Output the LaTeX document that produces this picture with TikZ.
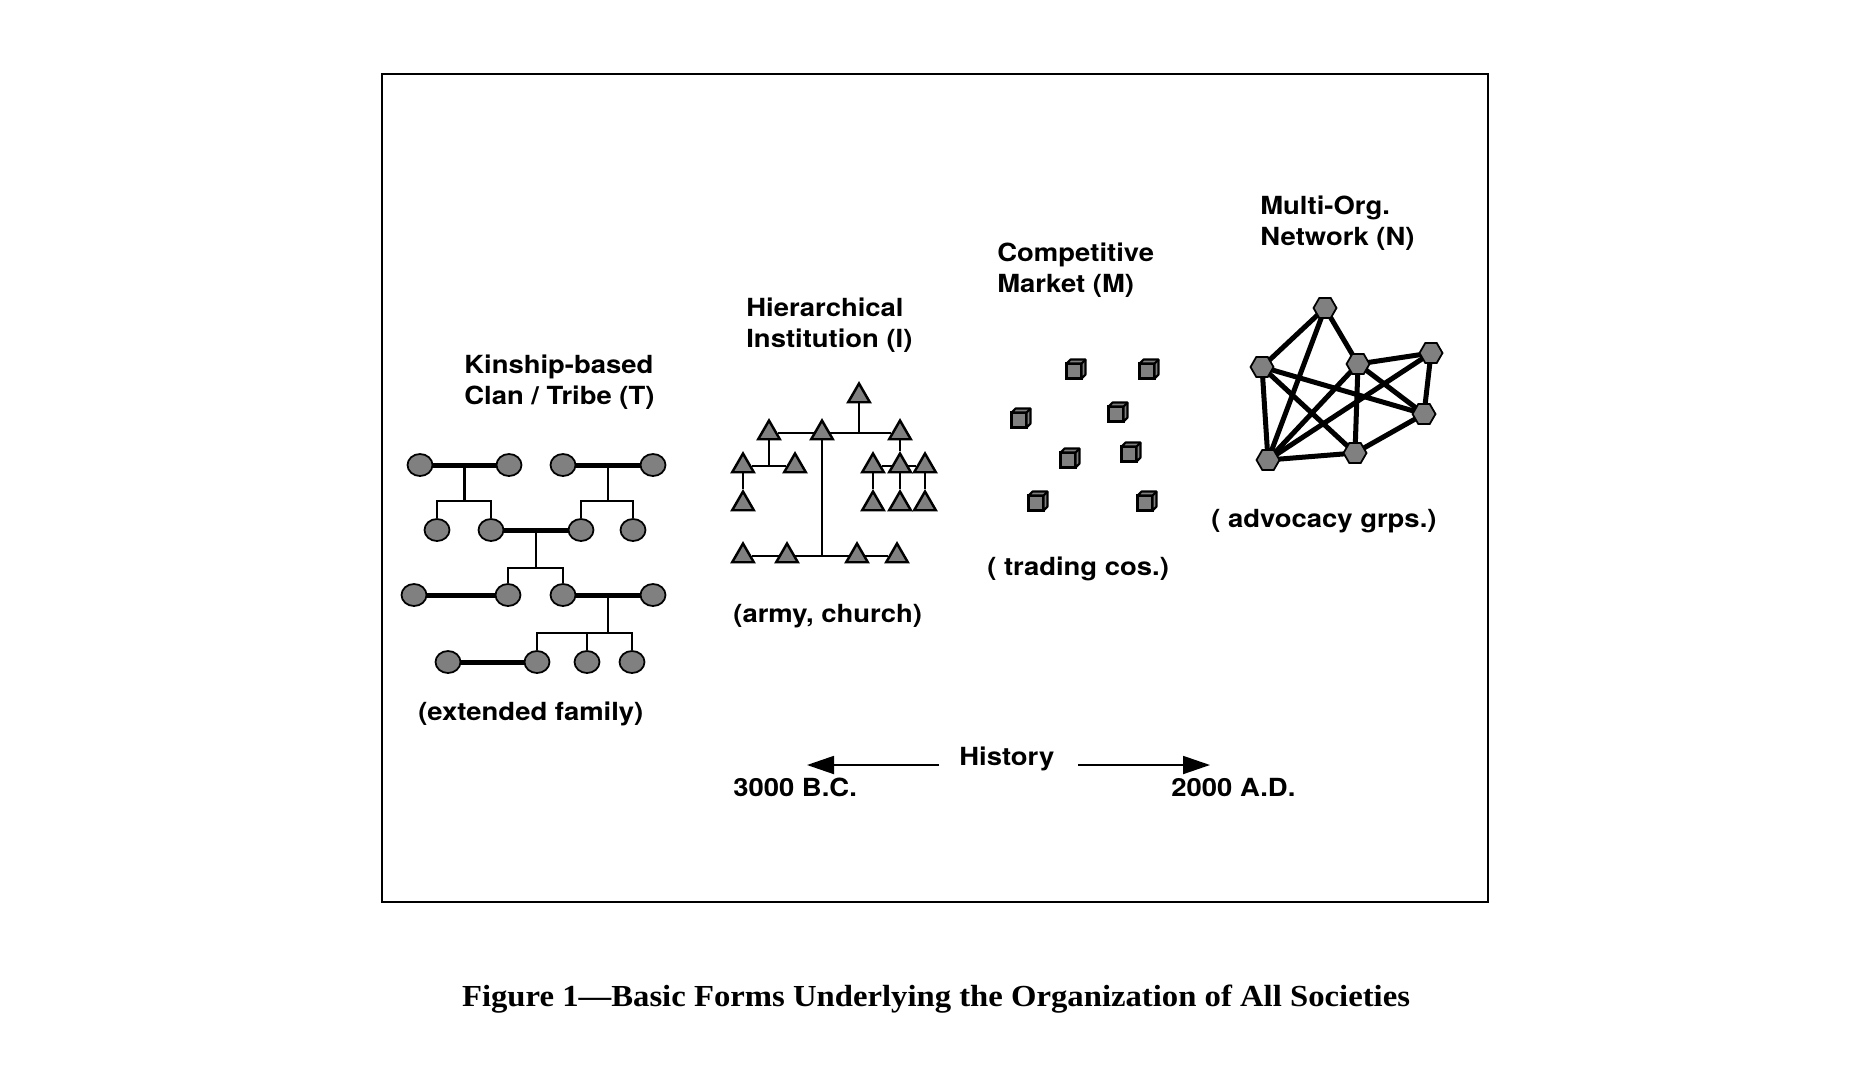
\documentclass[tikz,border=0pt]{standalone}
\usepackage{fontspec}
\setsansfont[FakeStretch=1.1]{TeX Gyre Heros}
\newfontfamily\capfont[FakeStretch=1.07]{Liberation Serif}
\usetikzlibrary{calc,shapes.geometric,arrows.meta,backgrounds}

\definecolor{fillgray}{HTML}{808080}

\tikzset{
  person/.style={ellipse, draw, line width=1pt, fill=fillgray, inner sep=0pt,
    minimum width=0.5cm, minimum height=0.44cm},
  bar/.style={line width=2.85pt},
  kin/.style={line width=1.25pt},
  rank/.style={regular polygon, regular polygon sides=3, draw, line width=1.4pt,
    fill=fillgray, inner sep=0pt, minimum size=0.5cm},
  chain/.style={line width=1.4pt},
  firm/.style={rectangle, draw, line width=1.2pt, fill=fillgray, inner sep=0pt,
    outer sep=0pt, minimum size=0.3cm},
  org/.style={regular polygon, regular polygon sides=6, draw, line width=1pt,
    fill=fillgray, inner sep=0pt, minimum size=0.46cm},
  tie/.style={line width=2.85pt},
  lbl/.style={font=\sffamily\bfseries\fontsize{14.2}{17.6}\selectfont,
    inner sep=0pt, align=left},
}

\begin{document}
\begin{tikzpicture}[x=0.02cm, y=-0.02cm]
\useasboundingbox (0,0) rectangle (1872,1076);

%frame
	\draw[line width=1.3pt] (382,74) rectangle (1488,902);

%kinship
	\node[person] (k11) at (420,465) {};
	\node[person] (k12) at (509,465) {};
	\node[person] (k13) at (563,465) {};
	\node[person] (k14) at (653,465) {};
	\node[person] (k21) at (437,530) {};
	\node[person] (k22) at (491,530) {};
	\node[person] (k23) at (581,530) {};
	\node[person] (k24) at (633,530) {};
	\node[person] (k31) at (414,595) {};
	\node[person] (k32) at (508,595) {};
	\node[person] (k33) at (563,595) {};
	\node[person] (k34) at (653,595) {};
	\node[person] (k41) at (448,662) {};
	\node[person] (k42) at (537,662) {};
	\node[person] (k43) at (587,662) {};
	\node[person] (k44) at (632,662) {};
	
	\draw[bar] (k11)--(k12); \draw[bar] (k13)--(k14); \draw[bar] (k22)--(k23);
	\draw[bar] (k31)--(k32); \draw[bar] (k33)--(k34); \draw[bar] (k41)--(k42);
	
	\draw[kin] ($(k11)!.5!(k12)$)--++(0,36) coordinate (f1);
	\draw[kin] (f1) -| (k21); \draw[kin] (f1) -| (k22);
	\draw[kin] ($(k13)!.5!(k14)$)--++(0,36) coordinate (f2);
	\draw[kin] (f2) -| (k23); \draw[kin] (f2) -| (k24);
	\draw[kin] ($(k22)!.5!(k23)$)--++(0,38) coordinate (f3);
	\draw[kin] (f3) -| (k32); \draw[kin] (f3) -| (k33);
	\draw[kin] ($(k33)!.5!(k34)$)--++(0,38) coordinate (f4);
	\draw[kin] (f4) -| (k42); \draw[kin] (f4) -| (k43); \draw[kin] (f4) -| (k44);

%hierarchy
	\node[rank] (h0) at (859,396) {};
	\node[rank] (ha1) at (769,433) {};
	\node[rank] (ha2) at (822,433) {};
	\node[rank] (ha3) at (900,433) {};
	\node[rank] (hb1) at (743,466) {};
	\node[rank] (hb2) at (795,466) {};
	\node[rank] (hb3) at (873,466) {};
	\node[rank] (hb4) at (900,466) {};
	\node[rank] (hb5) at (925,466) {};
	\node[rank] (hc1) at (743,504) {};
	\node[rank] (hc2) at (873,504) {};
	\node[rank] (hc3) at (900,504) {};
	\node[rank] (hc4) at (925,504) {};
	\node[rank] (hd1) at (743,556) {};
	\node[rank] (hd2) at (787,556) {};
	\node[rank] (hd3) at (857,556) {};
	\node[rank] (hd4) at (897,556) {};
	
	\begin{scope}[on background layer]
	\draw[chain] (ha1)--(ha3); \draw[chain] (h0)--(h0 |- ha1);
	\draw[chain] (ha2)--(ha2 |- hd1); \draw[chain] (hd1)--(hd4);
	\draw[chain] (ha1)--(ha1 |- hb1); \draw[chain] (hb1)--(hb2); \draw[chain] (hb1)--(hc1);
	\draw[chain] (ha3)--(hb4); \draw[chain] (hb3)--(hb5);
	\draw[chain] (hb3)--(hc2); \draw[chain] (hb4)--(hc3); \draw[chain] (hb5)--(hc4);
	\end{scope}

%market
	\node[firm] (m1) at (1074,371) {};
	\node[firm] (m2) at (1147,371) {};
	\node[firm] (m3) at (1019,420) {};
	\node[firm] (m4) at (1116,414) {};
	\node[firm] (m5) at (1068,460) {};
	\node[firm] (m6) at (1129,454) {};
	\node[firm] (m7) at (1036,503) {};
	\node[firm] (m8) at (1145,503) {};
	\foreach \c in {m1,m2,m3,m4,m5,m6,m7,m8}{
		\filldraw[fill=fillgray, line width=1.2pt, line join=round] (\c.north west)--++(4,-4)--++(15,0)--++(0,15)--(\c.south east)--(\c.north east)--cycle;
		\draw[line width=1.2pt] (\c.north east)--++(4,-4);
	}

%network
	\node[org] (n1) at (1325,308) {};
	\node[org] (n2) at (1262,367) {};
	\node[org] (n3) at (1358,364) {};
	\node[org] (n4) at (1431,353) {};
	\node[org] (n5) at (1424,414) {};
	\node[org] (n6) at (1355,453) {};
	\node[org] (n7) at (1268,460) {};
	\begin{scope}[on background layer]
	\foreach \a/\b in {n1/n2,n1/n7,n1/n3,n2/n7,n2/n6,n2/n5,n3/n7,n3/n6,n3/n4,n3/n5,n4/n5,n4/n7,n5/n6,n6/n7}
		\draw[tie] (\a.center)--(\b.center);
	\end{scope}

%labels
	\node[lbl, anchor=base west] (tribe) at (464,404) {Kinship-based\\Clan / Tribe (T)};
	\node[lbl, anchor=base west] (inst) at (746,347) {Hierarchical\\Institution (I)};
	\node[lbl, anchor=base west] (mkt) at (997,292) {Competitive\\Market (M)};
	\node[lbl, anchor=base west] (net) at (1260,245) {Multi-Org.\\Network (N)};
	\node[lbl, anchor=base west] (tribeex) at (418,720) {(extended family)};
	\node[lbl, anchor=base west] (instex) at (733,622) {(army, church)};
	\node[lbl, anchor=base west] (mktex) at (987,575) {( trading cos.)};
	\node[lbl, anchor=base west] (netex) at (1211,527) {( advocacy grps.)};

%history
	\node[lbl, anchor=base west] (hist) at (959,765) {History};
	\node[lbl, anchor=base west] (past) at (733,796) {3000 B.C.};
	\node[lbl, anchor=base west] (now) at (1171,796) {2000 A.D.};
	\coordinate (pasttail) at (939,765); \coordinate (pasttip) at (807,765);
	\coordinate (nowtail) at (1078,765); \coordinate (nowtip) at (1210,765);
	\draw[line width=1.1pt, -{Triangle[length=0.54cm,width=0.36cm]}] (pasttail)--(pasttip);
	\draw[line width=1.1pt, -{Triangle[length=0.54cm,width=0.36cm]}] (nowtail)--(nowtip);

%caption
	\node[font=\capfont\bfseries\fontsize{17.4}{20}\selectfont, inner sep=0pt, anchor=base] (cap) at (936,1006)
		{Figure 1—Basic Forms Underlying the Organization of All Societies};
\end{tikzpicture}
\end{document}
